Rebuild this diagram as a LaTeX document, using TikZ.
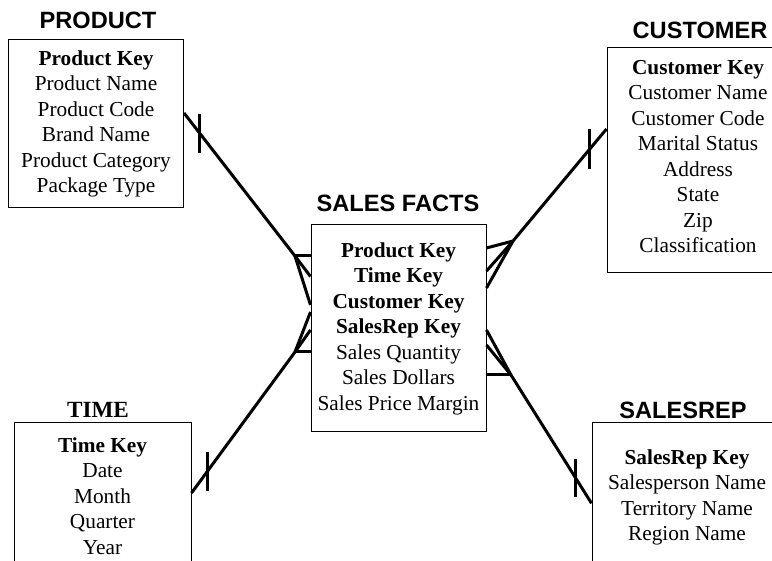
\documentclass[tikz,border=0pt]{standalone}
\usepackage{fontspec}
\setmainfont{Liberation Serif}
\setsansfont{Liberation Sans}
\usetikzlibrary{calc}

\begin{document}
\begin{tikzpicture}[x=1pt, y=-1pt,
  entity/.style={draw, line width=1pt, align=center, inner sep=0pt, font=\fontsize{21.3}{25.5}\selectfont},
  heading/.style={inner sep=0pt, font=\sffamily\bfseries\fontsize{23.6}{26}\selectfont},
  link/.style={line width=3pt}]
  \useasboundingbox (0,0) rectangle (772,561);
  \clip (0,0) rectangle (772,561);
  % dimension tables and the fact table
  \node[entity, minimum width=175pt, minimum height=168pt] (product) at (96,124) {\textbf{Product Key}\\Product Name\\Product Code\\Brand Name\\Product Category\\Package Type};
  \node[entity, minimum width=182pt, minimum height=225pt] (customer) at (698,160.5) {\textbf{Customer Key}\\Customer Name\\Customer Code\\Marital Status\\Address\\State\\Zip\\Classification\strut};
  \node[entity, minimum width=175pt, minimum height=207pt] (facts) at (398.5,328.5) {\textbf{Product Key}\\\textbf{Time Key}\\\textbf{Customer Key}\\\textbf{SalesRep Key}\\Sales Quantity\\Sales Dollars\\Sales Price Margin};
  \node[entity, minimum width=177pt, minimum height=146pt] (time) at (102.5,496) {\textbf{Time Key}\\Date\\Month\\Quarter\\Year};
  \node[entity, minimum width=190pt, minimum height=149pt] (salesrep) at (687,497.3) {\textbf{SalesRep Key}\\Salesperson Name\\Territory Name\\Region Name};
  % titles
  \node[heading] (productT) at (98,20) {PRODUCT};
  \node[heading] (customerT) at (700,30) {CUSTOMER};
  \node[heading] (factsT) at (398,203.5) {SALES FACTS};
  \node[heading, font=\rmfamily\bfseries\fontsize{23.2}{26}\selectfont] (timeT) at (98,410) {TIME};
  \node[heading] (salesrepT) at (683,410.5) {SALESREP};
  % one side of each link
  \coordinate (pp) at ([yshift=11pt]product.east);
  \coordinate (cc) at ([yshift=31.5pt]customer.west);
  \coordinate (tt) at ([yshift=3pt]time.east);
  \coordinate (ss) at ([yshift=-6pt]salesrep.west);
  % crow's feet junctions
  \coordinate (jp) at (295,256);
  \coordinate (jc) at (513,241);
  \coordinate (jt) at (295,352);
  \coordinate (js) at (511,375);
  % product -- facts
  \draw[link] (pp) -- (jp);
  \draw[link] ($(pp)!0.14!(jp)$) +(0,-19.5) -- +(0,19.5);
  \draw[link] (jp) -- (jp -| facts.west);
  \draw[link] (jp) -- ([yshift=52pt]facts.west);
  \draw[link] (jp) -- ([yshift=23.5pt]facts.west);
  % customer -- facts
  \draw[link] (cc) -- (jc);
  \draw[link] ($(cc)!0.18!(jc)$) +(0,-20) -- +(0,20);
  \draw[link] (jc) -- ([yshift=80.5pt]facts.east);
  \draw[link] (jc) -- ([yshift=57.5pt]facts.east);
  \draw[link] (jc) -- ([yshift=40.5pt]facts.east);
  % time -- facts
  \draw[link] (tt) -- (jt);
  \draw[link] ($(tt)!0.154!(jt)$) +(0,-19.5) -- +(0,19.5);
  \draw[link] (jt) -- (jt -| facts.west);
  \draw[link] (jt) -- ([yshift=-1.5pt]facts.west);
  \draw[link] (jt) -- ([yshift=16.5pt]facts.west);
  % salesrep -- facts
  \draw[link] (ss) -- (js);
  \draw[link] ($(ss)!0.2!(js)$) +(0,-19) -- +(0,19);
  \draw[link] (js) -- (js -| facts.east);
  \draw[link] (js) -- ([yshift=-16.5pt]facts.east);
  \draw[link] (js) -- ([yshift=-1.5pt]facts.east);
\end{tikzpicture}
\end{document}
